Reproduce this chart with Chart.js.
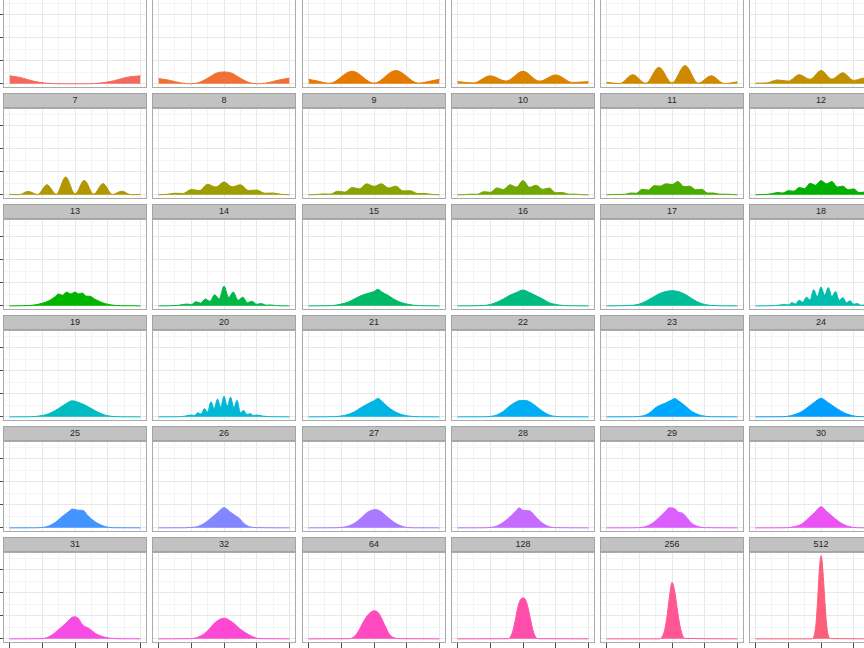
<!DOCTYPE html>
<html lang="en">
<head>
  <meta charset="UTF-8" />
  <title>Density facets</title>
  <style>
    html, body { margin: 0; padding: 0; background: #fff; }
    #page { position: relative; width: 864px; height: 648px; overflow: hidden; background: #fff; }
    canvas { position: absolute; }
    .strip { position: absolute; box-sizing: border-box; background: #c2c2c2; border: 1px solid #a3a3a3;
             font-family: "Liberation Sans", Arial, sans-serif; font-size: 9px; color: #262626;
             text-align: center; line-height: 13px; }
    .frame { position: absolute; box-sizing: border-box; border: 1px solid #ababab; pointer-events: none; }
  </style>
</head>
<body>
  <div id="page"></div>

  <script src="https://cdn.jsdelivr.net/npm/chart.js"></script>
  <script>
    // facet labels, in panel order
    const facetLabels = ['1','2','3','4','5','6','7','8','9','10','11','12',
      '13','14','15','16','17','18','19','20','21','22','23','24',
      '25','26','27','28','29','30','31','32','64','128','256','512'];
    const xTicks = [0, 0.125, 0.25, 0.375, 0.5, 0.625, 0.75, 0.875, 1];
    const yTicks = [0, 2.5, 5, 7.5, 10, 12.5, 15, 17.5];

    // density curves (x = proportion, y = density)
    const x_1 = [0, 0.08, 0.18, 0.28, 0.4, 0.6, 0.7, 0.8, 0.9, 1];
    const y_1 = [1.74, 1.4, 0.6, 0.15, 0.02, 0.02, 0.2, 0.7, 1.45, 1.74];
    const x_2 = [0, 0.08, 0.18, 0.25, 0.31, 0.37, 0.44, 0.5, 0.56, 0.63, 0.69, 0.75, 0.82, 0.92, 1];
    const y_2 = [1.15, 0.8, 0.15, 0.02, 0.3, 1.15, 2.3, 2.6, 2.3, 1.15, 0.3, 0.02, 0.15, 0.85, 1.25];
    const x_3 = [0, 0.07, 0.16, 0.333, 0.5, 0.667, 0.84, 0.93, 1];
    const y_3 = [1.0, 0.6, 0.12, 2.75, 0.15, 2.9, 0.15, 0.6, 1.0];
    const x_4 = [0, 0.12, 0.25, 0.37, 0.5, 0.625, 0.75, 0.88, 1];
    const y_4 = [0.5, 0.2, 1.75, 0.6, 2.75, 0.6, 1.95, 0.3, 0.5];
    const x_5 = [0, 0.1, 0.2, 0.3, 0.4, 0.5, 0.6, 0.7, 0.8, 0.9, 1];
    const y_5 = [0.35, 0.05, 2.0, 0.12, 3.6, 0.2, 4.0, 0.15, 1.75, 0.05, 0.45];
    const x_6 = [0, 0.083, 0.167, 0.25, 0.333, 0.417, 0.5, 0.583, 0.667, 0.75, 0.833, 0.917, 1];
    const y_6 = [0.15, 0.2, 0.85, 0.6, 2.0, 1.0, 2.9, 1.05, 2.4, 0.75, 1.3, 0.3, 0.2];
    const x_7 = [0, 0.071, 0.143, 0.214, 0.286, 0.357, 0.429, 0.5, 0.571, 0.643, 0.714, 0.786, 0.857, 0.929, 1];
    const y_7 = [0.1, 0.03, 0.75, 0.08, 2.2, 0.15, 3.9, 0.2, 3.15, 0.15, 2.45, 0.08, 0.8, 0.03, 0.12];
    const x_8 = [0, 0.0625, 0.125, 0.1875, 0.25, 0.3125, 0.375, 0.4375, 0.5, 0.5625, 0.625, 0.6875, 0.75, 0.8125, 0.875, 0.9375, 1];
    const y_8 = [0.05, 0.1, 0.35, 0.3, 1.15, 0.95, 2.3, 1.7, 2.8, 1.75, 2.2, 0.95, 1.05, 0.35, 0.4, 0.1, 0.05];
    const x_9 = [0, 0.056, 0.111, 0.167, 0.222, 0.278, 0.333, 0.389, 0.444, 0.5, 0.556, 0.611, 0.667, 0.722, 0.778, 0.833, 0.889, 0.944, 1];
    const y_9 = [0.02, 0.05, 0.2, 0.15, 0.8, 0.6, 1.6, 1.3, 2.4, 1.85, 2.4, 1.5, 1.9, 0.85, 0.9, 0.3, 0.3, 0.08, 0.02];
    const x_10 = [0, 0.05, 0.1, 0.15, 0.2, 0.25, 0.3, 0.35, 0.4, 0.45, 0.5, 0.55, 0.6, 0.65, 0.7, 0.75, 0.8, 0.85, 0.9, 0.95, 1];
    const y_10 = [0.01, 0.03, 0.15, 0.12, 0.7, 0.55, 1.5, 1.15, 2.2, 1.7, 3.1, 1.65, 2.1, 1.2, 1.5, 0.45, 0.5, 0.15, 0.15, 0.03, 0.01];
    const x_11 = [0, 0.091, 0.136, 0.182, 0.227, 0.273, 0.318, 0.364, 0.409, 0.455, 0.5, 0.545, 0.591, 0.636, 0.682, 0.727, 0.773, 0.818, 0.864, 0.909, 1];
    const y_11 = [0.01, 0.1, 0.1, 0.4, 0.35, 1.2, 1.05, 2.0, 1.9, 2.4, 2.25, 2.9, 1.8, 1.9, 1.1, 1.2, 0.4, 0.4, 0.15, 0.15, 0.01];
    const x_12 = [0, 0.083, 0.125, 0.167, 0.208, 0.25, 0.292, 0.333, 0.375, 0.417, 0.458, 0.5, 0.542, 0.583, 0.625, 0.667, 0.708, 0.75, 0.792, 0.833, 0.875, 0.917, 1];
    const y_12 = [0.02, 0.1, 0.25, 0.5, 0.4, 0.9, 0.8, 1.6, 1.35, 2.5, 2.1, 3.1, 2.4, 2.9, 1.7, 1.9, 1.1, 1.3, 0.5, 0.6, 0.2, 0.2, 0.02];
    const x_13 = [0, 0.15, 0.2, 0.25, 0.3, 0.34, 0.375, 0.405, 0.435, 0.468, 0.5, 0.528, 0.556, 0.585, 0.612, 0.65, 0.7, 0.75, 0.8, 0.85, 1];
    const y_13 = [0, 0.08, 0.25, 0.55, 1.1, 1.8, 2.6, 2.3, 3.0, 2.6, 3.0, 2.6, 2.8, 2.1, 2.1, 1.5, 0.8, 0.35, 0.12, 0.04, 0];
    const x_14 = [0, 0.15, 0.214, 0.25, 0.286, 0.321, 0.357, 0.393, 0.429, 0.464, 0.5, 0.536, 0.571, 0.607, 0.643, 0.679, 0.714, 0.75, 0.786, 0.821, 0.857, 0.9, 1];
    const y_14 = [0, 0.1, 0.4, 0.3, 0.9, 0.6, 1.5, 1.0, 2.4, 1.5, 4.3, 1.8, 3.0, 1.2, 1.9, 0.7, 1.0, 0.35, 0.5, 0.15, 0.2, 0.05, 0];
    const x_15 = [0, 0.15, 0.2, 0.25, 0.3, 0.35, 0.4, 0.45, 0.5, 0.53, 0.56, 0.6, 0.65, 0.7, 0.75, 0.8, 0.85, 1];
    const y_15 = [0, 0.03, 0.12, 0.4, 0.8, 1.5, 2.2, 2.7, 3.1, 3.6, 3.0, 2.4, 1.5, 0.8, 0.4, 0.15, 0.05, 0];
    const x_16 = [0, 0.2, 0.25, 0.3, 0.35, 0.4, 0.45, 0.5, 0.55, 0.6, 0.65, 0.7, 0.75, 0.8, 0.85, 1];
    const y_16 = [0, 0.08, 0.3, 0.8, 1.5, 2.3, 2.9, 3.45, 2.9, 2.2, 1.5, 0.7, 0.3, 0.1, 0.03, 0];
    const x_17 = [0, 0.2, 0.25, 0.3, 0.35, 0.4, 0.45, 0.5, 0.55, 0.6, 0.65, 0.7, 0.75, 0.8, 0.85, 1];
    const y_17 = [0, 0.12, 0.4, 1.0, 1.8, 2.6, 3.1, 3.3, 3.1, 2.5, 1.6, 0.8, 0.3, 0.1, 0.03, 0];
    const x_18 = [0, 0.15, 0.222, 0.25, 0.278, 0.306, 0.333, 0.361, 0.389, 0.417, 0.444, 0.472, 0.5, 0.528, 0.556, 0.583, 0.611, 0.639, 0.667, 0.694, 0.722, 0.75, 0.778, 0.806, 0.833, 0.9, 1];
    const y_18 = [0, 0.05, 0.3, 0.2, 0.7, 0.4, 1.2, 0.8, 1.9, 1.3, 3.5, 2.0, 4.1, 2.3, 4.0, 2.0, 3.1, 1.2, 1.8, 0.7, 1.1, 0.35, 0.5, 0.12, 0.2, 0.03, 0];
    const x_19 = [0, 0.15, 0.2, 0.25, 0.3, 0.35, 0.4, 0.45, 0.48, 0.5, 0.55, 0.6, 0.65, 0.7, 0.75, 0.8, 0.85, 1];
    const y_19 = [0, 0.02, 0.1, 0.3, 0.7, 1.4, 2.3, 3.2, 3.5, 3.4, 2.9, 2.2, 1.4, 0.7, 0.25, 0.07, 0.02, 0];
    const x_20 = [0, 0.15, 0.2, 0.25, 0.275, 0.3, 0.325, 0.35, 0.375, 0.4, 0.425, 0.45, 0.475, 0.5, 0.525, 0.55, 0.575, 0.6, 0.625, 0.65, 0.675, 0.7, 0.725, 0.75, 0.8, 0.85, 1];
    const y_20 = [0, 0.03, 0.15, 0.4, 0.3, 0.9, 0.6, 1.8, 1.0, 3.3, 1.8, 3.9, 2.1, 4.5, 2.3, 4.3, 2.0, 3.6, 0.9, 1.4, 0.5, 0.7, 0.3, 0.4, 0.15, 0.04, 0];
    const x_21 = [0, 0.2, 0.25, 0.3, 0.35, 0.4, 0.45, 0.5, 0.53, 0.56, 0.6, 0.65, 0.7, 0.75, 0.8, 0.85, 1];
    const y_21 = [0, 0.05, 0.2, 0.5, 1.1, 2.0, 2.8, 3.5, 4.0, 3.4, 2.3, 1.3, 0.6, 0.25, 0.08, 0.02, 0];
    const x_22 = [0, 0.2, 0.25, 0.3, 0.35, 0.4, 0.45, 0.48, 0.52, 0.55, 0.6, 0.65, 0.7, 0.75, 0.8, 1];
    const y_22 = [0, 0.02, 0.1, 0.4, 1.2, 2.4, 3.3, 3.55, 3.55, 3.3, 2.3, 1.2, 0.4, 0.1, 0.02, 0];
    const x_23 = [0, 0.2, 0.25, 0.3, 0.34, 0.37, 0.4, 0.45, 0.5, 0.52, 0.55, 0.6, 0.65, 0.7, 0.75, 0.8, 1];
    const y_23 = [0, 0.02, 0.1, 0.4, 1.1, 1.9, 2.4, 3.0, 3.7, 4.0, 3.5, 2.4, 1.2, 0.5, 0.15, 0.03, 0];
    const x_24 = [0, 0.2, 0.25, 0.3, 0.35, 0.4, 0.45, 0.5, 0.55, 0.6, 0.65, 0.7, 0.75, 0.8, 1];
    const y_24 = [0, 0.03, 0.15, 0.5, 1.1, 2.1, 3.2, 4.05, 3.2, 2.2, 1.3, 0.6, 0.2, 0.05, 0];
    const x_25 = [0, 0.2, 0.25, 0.3, 0.35, 0.4, 0.45, 0.48, 0.52, 0.56, 0.6, 0.65, 0.7, 0.75, 0.8, 1];
    const y_25 = [0, 0.02, 0.1, 0.4, 1.2, 2.4, 3.5, 4.1, 3.85, 3.8, 2.6, 1.4, 0.6, 0.15, 0.03, 0];
    const x_26 = [0, 0.2, 0.25, 0.3, 0.35, 0.4, 0.45, 0.5, 0.55, 0.6, 0.62, 0.65, 0.7, 0.75, 1];
    const y_26 = [0, 0.02, 0.1, 0.3, 1.0, 2.1, 3.3, 4.4, 3.4, 2.4, 2.0, 1.0, 0.2, 0.05, 0];
    const x_27 = [0, 0.2, 0.25, 0.3, 0.35, 0.4, 0.45, 0.48, 0.51, 0.55, 0.6, 0.65, 0.7, 0.75, 0.8, 1];
    const y_27 = [0, 0.02, 0.1, 0.35, 1.0, 2.1, 3.4, 3.8, 4.0, 3.6, 2.4, 1.3, 0.5, 0.1, 0.02, 0];
    const x_28 = [0, 0.2, 0.25, 0.3, 0.35, 0.4, 0.45, 0.47, 0.5, 0.55, 0.6, 0.65, 0.7, 0.75, 1];
    const y_28 = [0, 0.02, 0.1, 0.4, 1.2, 2.4, 3.8, 4.35, 3.8, 3.7, 2.3, 1.0, 0.25, 0.05, 0];
    const x_29 = [0, 0.2, 0.25, 0.3, 0.35, 0.4, 0.45, 0.48, 0.52, 0.55, 0.58, 0.62, 0.65, 0.7, 0.75, 1];
    const y_29 = [0, 0.01, 0.05, 0.3, 1.0, 2.2, 3.6, 4.35, 4.2, 3.4, 3.2, 2.0, 1.0, 0.3, 0.05, 0];
    const x_30 = [0, 0.2, 0.25, 0.3, 0.35, 0.4, 0.45, 0.5, 0.55, 0.6, 0.65, 0.7, 0.75, 0.8, 1];
    const y_30 = [0, 0.01, 0.05, 0.3, 0.8, 2.0, 3.3, 4.6, 3.4, 2.2, 1.1, 0.4, 0.1, 0.02, 0];
    const x_31 = [0, 0.25, 0.31, 0.37, 0.43, 0.49, 0.52, 0.56, 0.61, 0.66, 0.71, 0.77, 0.82, 1];
    const y_31 = [0, 0.05, 0.6, 1.9, 3.4, 4.8, 4.6, 3.0, 2.2, 1.1, 0.5, 0.15, 0.03, 0];
    const x_32 = [0, 0.25, 0.32, 0.38, 0.43, 0.5, 0.57, 0.62, 0.69, 0.75, 0.8, 1];
    const y_32 = [0, 0.05, 0.6, 1.9, 3.5, 4.5, 3.5, 2.2, 0.9, 0.15, 0.03, 0];
    const x_64 = [0, 0.3, 0.34, 0.38, 0.42, 0.46, 0.5, 0.52, 0.54, 0.58, 0.62, 0.66, 0.7, 1];
    const y_64 = [0, 0.03, 0.3, 1.6, 3.8, 5.4, 6.1, 6.0, 5.4, 3.1, 0.9, 0.2, 0.03, 0];
    const x_128 = [0, 0.38, 0.4, 0.42, 0.44, 0.46, 0.48, 0.5, 0.52, 0.54, 0.56, 0.58, 0.6, 0.62, 1];
    const y_128 = [0, 0.02, 0.3, 1.5, 3.9, 6.8, 8.5, 8.9, 8.5, 6.6, 3.9, 1.5, 0.3, 0.03, 0];
    const x_256 = [0, 0.4, 0.42, 0.44, 0.46, 0.48, 0.5, 0.52, 0.54, 0.56, 0.58, 0.6, 1];
    const y_256 = [0, 0, 0.3, 1.5, 4.5, 9.0, 12.3, 10.5, 6.5, 3.0, 0.8, 0.1, 0];
    const x_512 = [0, 0.43, 0.44, 0.45, 0.46, 0.47, 0.48, 0.49, 0.5, 0.51, 0.52, 0.53, 0.54, 0.55, 0.56, 0.57, 1];
    const y_512 = [0, 0, 0.2, 1.0, 2.8, 6.5, 11.5, 16, 18.1, 16.5, 12.5, 8, 4, 1.5, 0.4, 0.05, 0];

    const curves = [
      [x_1, y_1], [x_2, y_2], [x_3, y_3], [x_4, y_4], [x_5, y_5], [x_6, y_6],
      [x_7, y_7], [x_8, y_8], [x_9, y_9], [x_10, y_10], [x_11, y_11], [x_12, y_12],
      [x_13, y_13], [x_14, y_14], [x_15, y_15], [x_16, y_16], [x_17, y_17], [x_18, y_18],
      [x_19, y_19], [x_20, y_20], [x_21, y_21], [x_22, y_22], [x_23, y_23], [x_24, y_24],
      [x_25, y_25], [x_26, y_26], [x_27, y_27], [x_28, y_28], [x_29, y_29], [x_30, y_30],
      [x_31, y_31], [x_32, y_32], [x_64, y_64], [x_128, y_128], [x_256, y_256], [x_512, y_512]
    ];

    // hue palette in HCL space, a bit more saturated than the ggplot default
    function hcl(h, c, l) {
      const hr = h * Math.PI / 180;
      const U = c * Math.cos(hr), V = c * Math.sin(hr);
      const Y = l > 7.999592 ? 100 * Math.pow((l + 16) / 116, 3) : 100 * l / 903.3;
      const up = 0.1978398 + U / (13 * l), vp = 0.4683363 + V / (13 * l);
      const X = 9 * Y * up / (4 * vp);
      const Z = -X / 3 - 5 * Y + 3 * Y / vp;
      const g = u => u > 0.00304 ? 1.055 * Math.pow(u, 1 / 2.4) - 0.055 : 12.92 * u;
      const rgb = [
        g(( 3.240479 * X - 1.537150 * Y - 0.498535 * Z) / 100),
        g((-0.969256 * X + 1.875992 * Y + 0.041556 * Z) / 100),
        g(( 0.055648 * X - 0.204043 * Y + 1.057311 * Z) / 100)
      ].map(v => Math.round(255 * Math.min(1, Math.max(0, v))));
      return 'rgb(' + rgb.join(',') + ')';
    }

    const page = document.getElementById('page');
    const isMajorX = v => Math.abs(v * 4 - Math.round(v * 4)) < 1e-6;
    const isMajorY = v => Math.abs(v / 5 - Math.round(v / 5)) < 1e-6;

    facetLabels.forEach((lab, i) => {
      const r = Math.floor(i / 6), c = i % 6;
      const L = Math.round(3 + c * 149.25);
      const T = Math.round(-2.6 + r * 110.85);
      const W = 144, H = 91;
      const left = c === 0, bottom = r === 5;
      const col = hcl(15 + 10 * i, 112, 62);

      const strip = document.createElement('div');
      strip.className = 'strip';
      strip.style.left = L + 'px'; strip.style.top = (T - 15) + 'px';
      strip.style.width = W + 'px'; strip.style.height = '15px';
      strip.textContent = lab;
      page.appendChild(strip);

      const cv = document.createElement('canvas');
      const cw = W + (left ? 3 : 0), ch = H + (bottom ? 5 : 0);
      cv.width = cw; cv.height = ch;
      cv.style.width = cw + 'px'; cv.style.height = ch + 'px';
      cv.style.left = (L - (left ? 3 : 0)) + 'px'; cv.style.top = T + 'px';
      page.appendChild(cv);

      const [xs, ys] = curves[i];
      new Chart(cv.getContext('2d'), {
        type: 'line',
        data: {
          datasets: [{
            data: xs.map((x, j) => ({ x: x, y: ys[j] })),
            borderColor: col, backgroundColor: col, borderWidth: 1,
            fill: 'origin', pointRadius: 0, cubicInterpolationMode: 'monotone'
          }]
        },
        options: {
          responsive: false, animation: false,
          layout: { padding: 0 },
          plugins: { legend: { display: false }, tooltip: { enabled: false } },
          scales: {
            x: {
              type: 'linear', min: -0.05, max: 1.05,
              afterBuildTicks: ax => { ax.ticks = xTicks.map(v => ({ value: v })); },
              ticks: { display: false },
              border: { display: false },
              grid: {
                color: ctx => isMajorX(ctx.tick.value) ? '#e8e8e8' : '#f4f4f4',
                lineWidth: 1,
                drawTicks: bottom, tickLength: 5, tickWidth: 1,
                tickColor: ctx => isMajorX(ctx.tick.value) ? '#4d4d4d' : 'rgba(0,0,0,0)'
              }
            },
            y: {
              type: 'linear', min: -0.9, max: 18.9,
              afterBuildTicks: ax => { ax.ticks = yTicks.map(v => ({ value: v })); },
              ticks: { display: false },
              border: { display: false },
              grid: {
                color: ctx => isMajorY(ctx.tick.value) ? '#e8e8e8' : '#f4f4f4',
                lineWidth: 1,
                drawTicks: left, tickLength: 3, tickWidth: 1,
                tickColor: ctx => isMajorY(ctx.tick.value) ? '#4d4d4d' : 'rgba(0,0,0,0)'
              }
            }
          }
        }
      });

      const frame = document.createElement('div');
      frame.className = 'frame';
      frame.style.left = L + 'px'; frame.style.top = T + 'px';
      frame.style.width = W + 'px'; frame.style.height = H + 'px';
      page.appendChild(frame);
    });
  </script>
</body>
</html>
